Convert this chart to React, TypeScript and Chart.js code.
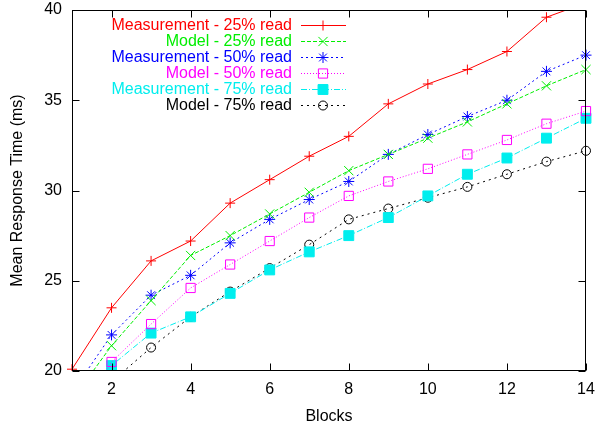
import React, { useEffect, useRef } from 'react';
import { Chart, registerables } from 'chart.js';
import { drawPoint } from 'chart.js/helpers';

Chart.register(...registerables);

const BLOCKS = [1, 2, 3, 4, 5, 6, 7, 8, 9, 10, 11, 12, 13, 14];
const X_TICKS = [2, 4, 6, 8, 10, 12, 14];
const Y_TICKS = [20, 25, 30, 35, 40];

const MEAS_25 = [20.1, 23.5, 26.1, 27.2, 29.3, 30.6, 31.9, 33.0, 34.8, 35.9, 36.7, 37.7, 39.6, 40.4];
const MODEL_25 = [18.4, 21.4, 23.9, 26.4, 27.5, 28.7, 29.9, 31.1, 32.0, 32.9, 33.8, 34.8, 35.8, 36.7];
const MEAS_50 = [18.8, 22.0, 24.2, 25.3, 27.1, 28.4, 29.5, 30.5, 32.0, 33.1, 34.1, 35.0, 36.6, 37.5];
const MODEL_50 = [17.2, 20.5, 22.6, 24.6, 25.9, 27.2, 28.5, 29.7, 30.5, 31.2, 32.0, 32.8, 33.7, 34.4];
const MEAS_75 = [17.8, 20.3, 22.1, 23.0, 24.3, 25.6, 26.6, 27.5, 28.5, 29.7, 30.9, 31.8, 32.9, 34.0];
const MODEL_75 = [17.5, 19.4, 21.3, 23.0, 24.4, 25.7, 27.0, 28.4, 29.0, 29.6, 30.2, 30.9, 31.6, 32.2];

const SERIES_LABELS = [
  'Measurement - 25% read',
  'Model - 25% read',
  'Measurement - 50% read',
  'Model - 50% read',
  'Measurement - 75% read',
  'Model - 75% read',
];
const SERIES_VALUES = [MEAS_25, MODEL_25, MEAS_50, MODEL_50, MEAS_75, MODEL_75];
const SERIES_COLORS = ['#ff0000', '#00ee00', '#0000ff', '#ff00ff', '#00eeee', '#000000'];
const SERIES_DASHES = [[], [4, 2], [2, 3], [1, 2], [6, 2, 1, 2], [2, 4]];
const SERIES_POINTS = ['cross', 'crossRot', 'star', 'rect', 'rect', 'circle'];
const SERIES_RADII = [5, 6.5, 5.5, 6.5, 7, 4.5];
const SERIES_FILLED = [false, false, false, false, true, false];

const FONT = '"Liberation Sans", Arial, Helvetica, sans-serif';

const frameTicksPlugin = {
  id: 'frameTicks',
  afterDraw(chart: any) {
    const { ctx, chartArea } = chart;
    const l = Math.round(chartArea.left) + 0.5;
    const r = Math.round(chartArea.right) - 0.5;
    const t = Math.round(chartArea.top) + 0.5;
    const b = Math.round(chartArea.bottom) - 0.5;
    const len = 7;
    ctx.save();
    ctx.strokeStyle = '#000';
    ctx.lineWidth = 1;
    ctx.setLineDash([]);
    ctx.beginPath();
    const xs = chart.scales.x;
    const ys = chart.scales.y;
    X_TICKS.forEach((v) => {
      const px = Math.round(xs.getPixelForValue(v)) + 0.5;
      ctx.moveTo(px, b);
      ctx.lineTo(px, b - len);
      ctx.moveTo(px, t);
      ctx.lineTo(px, t + len);
    });
    Y_TICKS.forEach((v) => {
      const py = Math.round(ys.getPixelForValue(v)) + 0.5;
      ctx.moveTo(l, py);
      ctx.lineTo(l + len, py);
      ctx.moveTo(r, py);
      ctx.lineTo(r - len, py);
    });
    ctx.stroke();
    ctx.strokeRect(l, t, r - l, b - t);
    ctx.restore();
  },
};

const legendPlugin = {
  id: 'gnuLegend',
  afterDraw(chart: any) {
    const { ctx } = chart;
    const textRight = 292;
    const lineStart = 301;
    const lineEnd = 346;
    const markX = 323;
    const top = 25;
    const step = 15.9;
    ctx.save();
    chart.data.datasets.forEach((ds: any, i: number) => {
      const y = top + i * step;
      ctx.font = `16px ${FONT}`;
      ctx.textAlign = 'right';
      ctx.textBaseline = 'middle';
      ctx.fillStyle = ds.borderColor;
      ctx.fillText(ds.label, textRight, y + 1);
      ctx.strokeStyle = ds.borderColor;
      ctx.lineWidth = 1;
      ctx.setLineDash(ds.borderDash || []);
      ctx.beginPath();
      ctx.moveTo(lineStart, Math.round(y) + 0.5);
      ctx.lineTo(lineEnd, Math.round(y) + 0.5);
      ctx.stroke();
      ctx.setLineDash([]);
      ctx.fillStyle = ds.pointBackgroundColor;
      ctx.strokeStyle = ds.pointBorderColor;
      drawPoint(
        ctx,
        { pointStyle: ds.pointStyle, radius: ds.pointRadius, rotation: 0, borderWidth: 1 } as any,
        markX,
        Math.round(y) + 0.5
      );
    });
    ctx.restore();
  },
};

export default function App() {
  const ref = useRef<HTMLCanvasElement>(null);

  useEffect(() => {
    document.body.style.margin = '0';
    if (!ref.current) return;
    Chart.defaults.font.family = FONT;
    Chart.defaults.font.size = 16;
    Chart.defaults.color = '#000';

    const datasets = SERIES_LABELS.map((label, i) => ({
      label,
      data: BLOCKS.map((b, j) => ({ x: b, y: SERIES_VALUES[i][j] })),
      borderColor: SERIES_COLORS[i],
      backgroundColor: SERIES_COLORS[i],
      borderWidth: 1,
      borderDash: SERIES_DASHES[i],
      pointStyle: SERIES_POINTS[i],
      pointRadius: SERIES_RADII[i],
      pointHoverRadius: SERIES_RADII[i],
      pointBorderWidth: 1,
      pointBorderColor: SERIES_COLORS[i],
      pointBackgroundColor: SERIES_FILLED[i] ? SERIES_COLORS[i] : 'rgba(0,0,0,0)',
      tension: 0,
      fill: false,
      clip: { left: 10, right: 10, top: 0, bottom: 0 },
    }));

    const chart = new Chart(ref.current, {
      type: 'line',
      data: { datasets: datasets as any },
      plugins: [frameTicksPlugin, legendPlugin],
      options: {
        animation: false,
        responsive: true,
        maintainAspectRatio: false,
        layout: { padding: { left: 0, right: 11, top: 10, bottom: 0 } },
        plugins: { legend: { display: false }, tooltip: { enabled: false } },
        scales: {
          x: {
            type: 'linear',
            min: 1,
            max: 14,
            afterBuildTicks: (s: any) => {
              s.ticks = X_TICKS.map((v) => ({ value: v }));
            },
            afterFit: (s: any) => {
              s.height = 55;
              s.paddingLeft = 0;
              s.paddingRight = 0;
            },
            grid: { display: false, drawTicks: false },
            border: { display: false },
            ticks: { padding: 9, autoSkip: false, maxRotation: 0, color: '#000', font: { size: 16 } },
            title: { display: true, text: 'Blocks', color: '#000', font: { size: 16 }, padding: { top: 4, bottom: 0 } },
          },
          y: {
            type: 'linear',
            min: 20,
            max: 40,
            afterBuildTicks: (s: any) => {
              s.ticks = Y_TICKS.map((v) => ({ value: v }));
            },
            afterFit: (s: any) => {
              s.width = 72;
              s.paddingTop = 0;
              s.paddingBottom = 0;
            },
            grid: { display: false, drawTicks: false },
            border: { display: false },
            ticks: { padding: 10, autoSkip: false, color: '#000', font: { size: 16 } },
            title: {
              display: true,
              text: 'Mean Response Time (ms)',
              color: '#000',
              font: { size: 16 },
              padding: { top: 8, bottom: 0 },
            },
          },
        },
      },
    });
    return () => chart.destroy();
  }, []);

  return (
    <div style={{ position: 'relative', width: 597, height: 426 }}>
      <canvas ref={ref} />
    </div>
  );
}
